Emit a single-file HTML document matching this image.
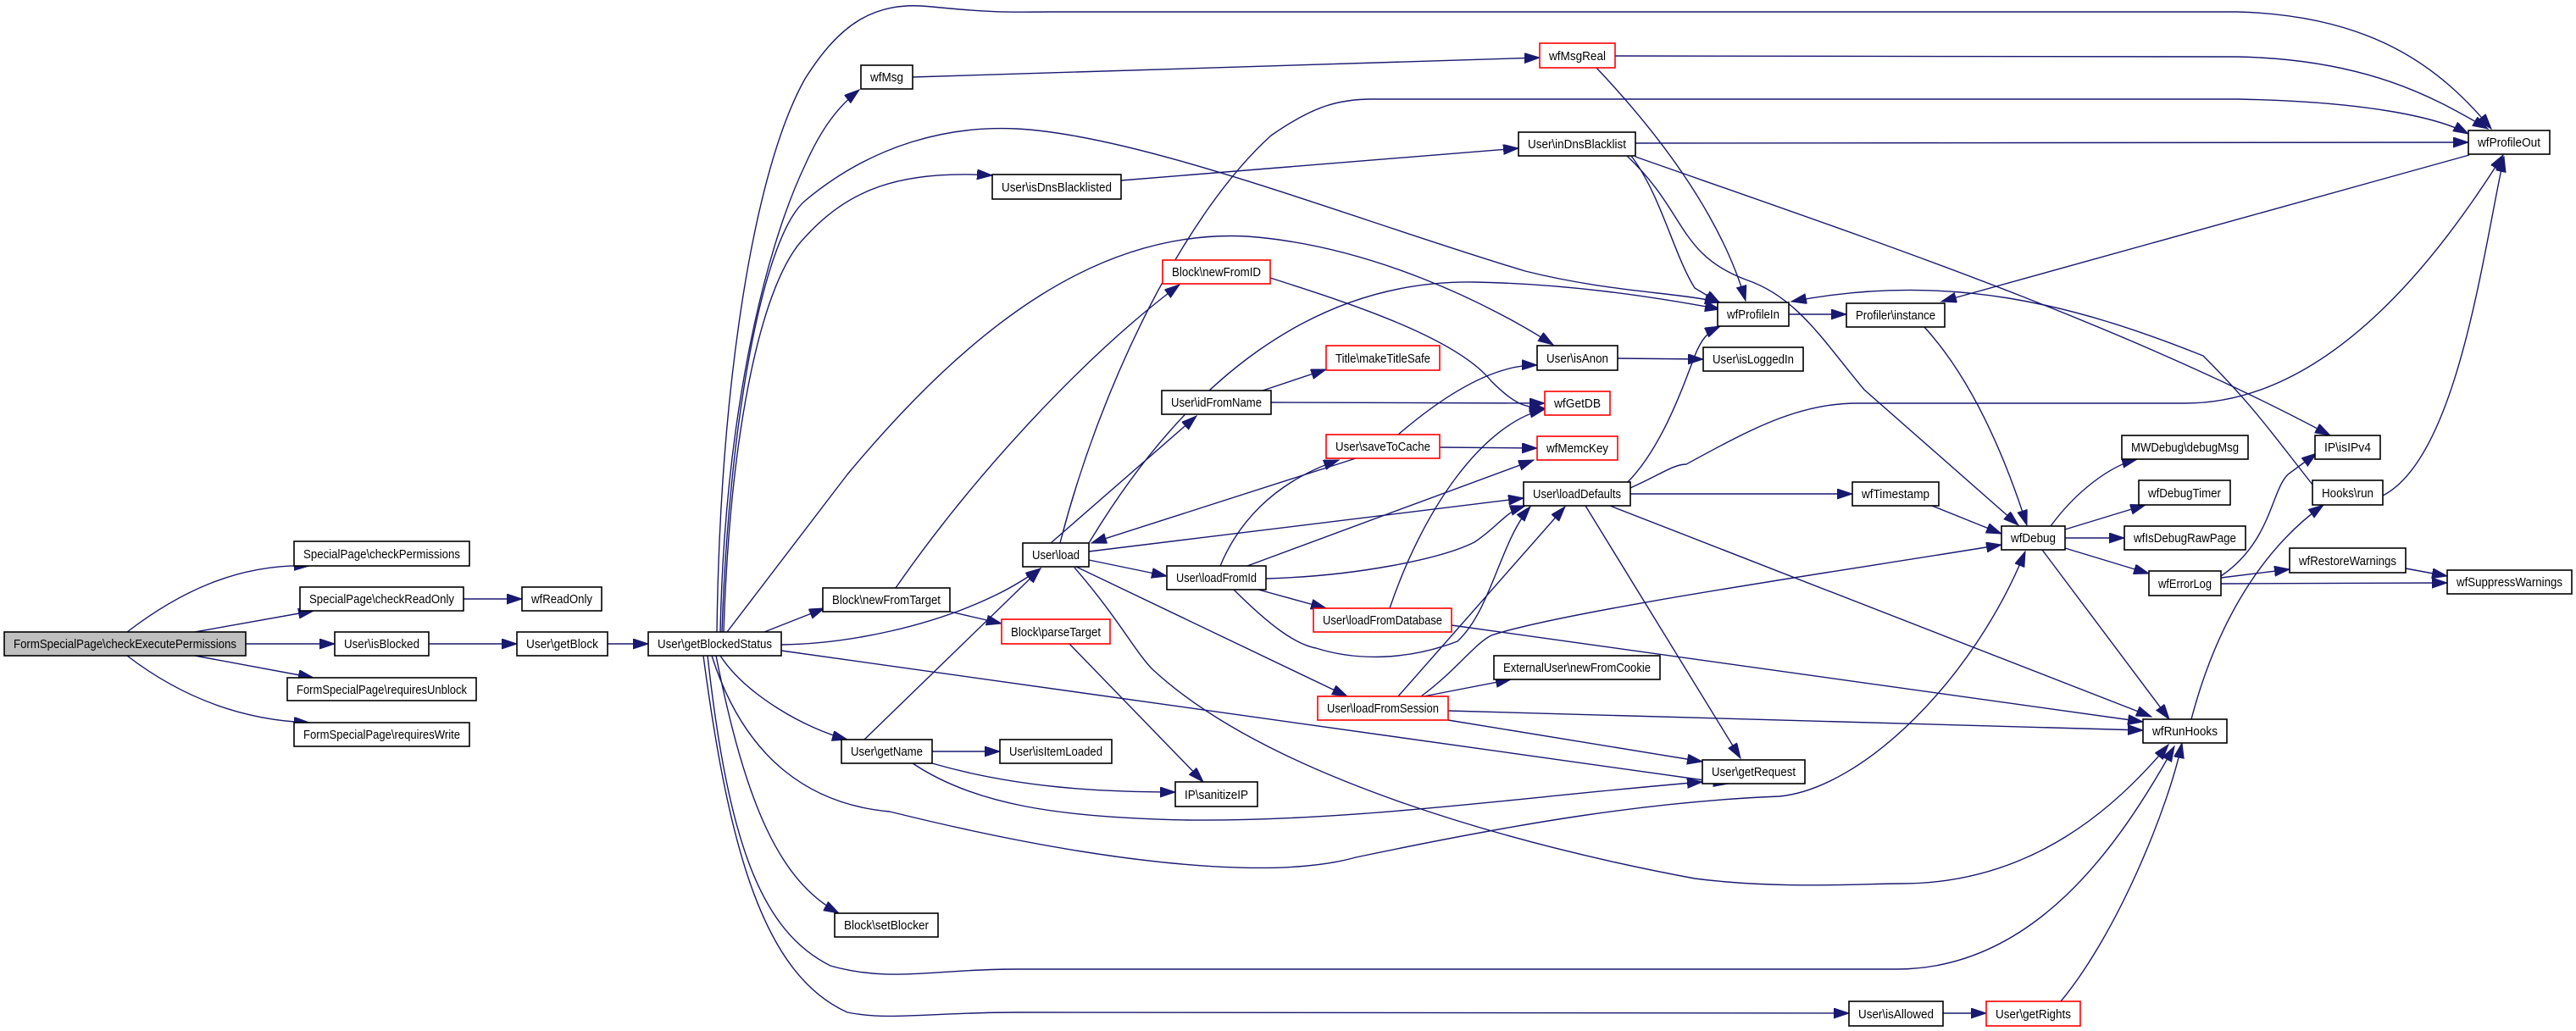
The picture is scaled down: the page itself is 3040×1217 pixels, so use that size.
<!DOCTYPE html>
<html><head><meta charset="utf-8"><style>
html,body{margin:0;padding:0;background:#fff;}
svg{display:block}
text{font-family:"Liberation Sans",sans-serif;font-size:15px;fill:#000}
.e{fill:none;stroke:#191970;stroke-width:1.4}
.n{fill:#fff;stroke:#000;stroke-width:1.6}
.r{fill:#fff;stroke:#ff0000;stroke-width:1.6}
.g{fill:#bfbfbf;stroke:#000;stroke-width:1.6}
</style></head><body>
<svg width="3040" height="1217" viewBox="0 0 3040 1217" xmlns="http://www.w3.org/2000/svg">
<defs><marker id="a" markerUnits="userSpaceOnUse" markerWidth="20" markerHeight="14" refX="18" refY="6" orient="auto"><path d="M0,0 L18,6 L0,12 z" fill="#191970" stroke="#191970"/></marker></defs>
<g class="edges" marker-end="url(#a)">
<path class="e" marker-end="url(#a)" d="M150,746 C210,700 280,665 365,668"/>
<path class="e" marker-end="url(#a)" d="M230,746 L370,721"/>
<path class="e" marker-end="url(#a)" d="M290,760 L395,760"/>
<path class="e" marker-end="url(#a)" d="M230,774 L370,800"/>
<path class="e" marker-end="url(#a)" d="M150,774 C210,820 280,850 365,853"/>
<path class="e" marker-end="url(#a)" d="M547,707 L616,707"/>
<path class="e" marker-end="url(#a)" d="M506,760 L610,760"/>
<path class="e" marker-end="url(#a)" d="M717,760 L765,760"/>
<path class="e" marker-end="url(#a)" d="M846,746 C850,450 890,200 950,93 C990,30 1030,0 1100,8 C1180,16 1200,14 1240,14 L2640,14 C2800,18 2880,80 2940,152"/>
<path class="e" marker-end="url(#a)" d="M850,746 C855,500 900,300 950,195 C970,150 990,125 1014,106"/>
<path class="e" marker-end="url(#a)" d="M852,746 C860,500 900,280 950,237 C1030,170 1120,148 1200,152 C1350,160 1600,260 1800,320 C1900,345 1980,345 2030,357"/>
<path class="e" marker-end="url(#a)" d="M854,746 C862,500 900,330 950,280 C1000,225 1060,200 1171,207"/>
<path class="e" marker-end="url(#a)" d="M858,746 L1000,560 C1150,380 1300,270 1472,279 C1620,290 1760,360 1833,407"/>
<path class="e" marker-end="url(#a)" d="M902,746 L973,718"/>
<path class="e" marker-end="url(#a)" d="M922,761 C1000,760 1100,740 1180,700 C1200,690 1215,680 1228,671"/>
<path class="e" marker-end="url(#a)" d="M922,768 L2040,925"/>
<path class="e" marker-end="url(#a)" d="M830,774 C860,1000 900,1150 1000,1195 C1050,1205 1100,1195 1200,1195 L2182,1196"/>
<path class="e" marker-end="url(#a)" d="M835,774 C860,1000 900,1100 980,1140 C1050,1160 1100,1144 1200,1144 L2238,1144 C2400,1144 2500,1000 2566,881"/>
<path class="e" marker-end="url(#a)" d="M845,774 C880,950 920,1040 990,1078"/>
<path class="e" marker-end="url(#a)" d="M850,774 C880,820 950,860 1000,873"/>
<path class="e" marker-end="url(#a)" d="M840,774 C880,900 960,950 1050,958 C1300,1020 1500,1040 1600,1012 C1800,970 1950,946 2100,940 C2200,930 2330,800 2390,651"/>
<path class="e" marker-end="url(#a)" d="M1077,91 L1817,68"/>
<path class="e" d="M1906,66 L2640,67 C2800,70 2880,120 2936,152"/>
<path class="e" marker-end="url(#a)" d="M1884,80 C1950,150 2030,250 2060,355"/>
<path class="e" marker-end="url(#a)" d="M1323,213 L1792,175"/>
<path class="e" marker-end="url(#a)" d="M1930,169 L2913,168"/>
<path class="e" marker-end="url(#a)" d="M1930,185 C2200,280 2500,380 2750,514"/>
<path class="e" marker-end="url(#a)" d="M1925,184 C1960,230 1975,300 2000,340 L2030,358"/>
<path class="e" marker-end="url(#a)" d="M1920,184 C1990,250 1980,300 2060,330 C2120,350 2150,400 2200,460 L2382,620"/>
<path class="e" marker-end="url(#a)" d="M1057,694 C1150,560 1280,420 1392,336"/>
<path class="e" marker-end="url(#a)" d="M1251,641 C1300,450 1400,250 1500,160 C1550,125 1580,117 1620,117 L2640,117 C2800,120 2880,140 2913,158"/>
<path class="e" marker-end="url(#a)" d="M1285,641 C1400,450 1550,330 1740,333 C1850,335 1950,350 2030,365"/>
<path class="e" marker-end="url(#a)" d="M1240,641 L1412,491"/>
<path class="e" marker-end="url(#a)" d="M1600,541 L1288,641"/>
<path class="e" marker-end="url(#a)" d="M1440,668 C1460,620 1500,570 1580,543"/>
<path class="e" marker-end="url(#a)" d="M1285,651 L1798,588"/>
<path class="e" marker-end="url(#a)" d="M1285,661 L1377,680"/>
<path class="e" marker-end="url(#a)" d="M1270,669 L1590,822"/>
<path class="e" marker-end="url(#a)" d="M1268,670 C1320,730 1340,770 1360,790 C1500,920 1800,1000 2000,1037 C2100,1050 2200,1043 2244,1043 C2400,1043 2500,950 2559,879"/>
<path class="e" marker-end="url(#a)" d="M1485,696 L1565,718"/>
<path class="e" marker-end="url(#a)" d="M1494,683 C1600,680 1700,660 1740,640 C1770,620 1775,605 1800,597"/>
<path class="e" marker-end="url(#a)" d="M1456,696 C1500,740 1530,761 1553,765 C1600,780 1660,780 1720,757 C1760,720 1770,640 1806,598"/>
<path class="e" marker-end="url(#a)" d="M1472,668 L1810,543"/>
<path class="e" marker-end="url(#a)" d="M1640,718 C1680,600 1750,500 1823,483"/>
<path class="e" marker-end="url(#a)" d="M1713,738 L2529,852"/>
<path class="e" marker-end="url(#a)" d="M1680,822 L1783,802"/>
<path class="e" marker-end="url(#a)" d="M1650,822 L1847,598"/>
<path class="e" marker-end="url(#a)" d="M1677,822 C1720,790 1740,760 1760,750 C1850,720 2200,670 2362,643"/>
<path class="e" marker-end="url(#a)" d="M1709,839 L2529,862"/>
<path class="e" marker-end="url(#a)" d="M1709,850 L2009,899"/>
<path class="e" marker-end="url(#a)" d="M1924,576 C1960,560 1975,548 1990,548 C2060,510 2120,476 2191,476 L2579,476 C2750,476 2880,300 2954,183"/>
<path class="e" marker-end="url(#a)" d="M1920,570 C1960,530 1985,460 2000,420 C2008,400 2015,392 2030,385"/>
<path class="e" marker-end="url(#a)" d="M1924,583 L2186,583"/>
<path class="e" marker-end="url(#a)" d="M1900,597 L2539,846"/>
<path class="e" marker-end="url(#a)" d="M1871,597 L2054,895"/>
<path class="e" marker-end="url(#a)" d="M2111,371 L2179,371"/>
<path class="e" marker-end="url(#a)" d="M2914,183 L2291,356"/>
<path class="e" marker-end="url(#a)" d="M2271,386 C2320,440 2360,520 2392,620"/>
<path class="e" marker-end="url(#a)" d="M2729,572 C2680,510 2660,480 2600,420 C2450,360 2300,320 2114,356"/>
<path class="e" marker-end="url(#a)" d="M2812,585 C2900,540 2930,300 2955,185"/>
<path class="e" marker-end="url(#a)" d="M1499,328 C1600,360 1720,400 1760,450 C1790,480 1800,480 1823,482"/>
<path class="e" marker-end="url(#a)" d="M1490,461 L1565,436"/>
<path class="e" marker-end="url(#a)" d="M1500,475 L1823,476"/>
<path class="e" marker-end="url(#a)" d="M1650,513 C1700,470 1760,430 1814,431"/>
<path class="e" marker-end="url(#a)" d="M1699,528 L1814,529"/>
<path class="e" marker-end="url(#a)" d="M1909,423 L2010,424"/>
<path class="e" marker-end="url(#a)" d="M2280,597 L2362,630"/>
<path class="e" marker-end="url(#a)" d="M2420,621 C2450,580 2490,550 2522,542"/>
<path class="e" marker-end="url(#a)" d="M2437,625 L2532,596"/>
<path class="e" marker-end="url(#a)" d="M2437,635 L2507,635"/>
<path class="e" marker-end="url(#a)" d="M2437,647 L2536,677"/>
<path class="e" marker-end="url(#a)" d="M2410,649 L2560,849"/>
<path class="e" marker-end="url(#a)" d="M2621,680 C2680,640 2680,580 2700,560 L2734,535"/>
<path class="e" marker-end="url(#a)" d="M2621,682 L2702,672"/>
<path class="e" marker-end="url(#a)" d="M2621,689 L2888,688"/>
<path class="e" marker-end="url(#a)" d="M2839,671 L2888,680"/>
<path class="e" marker-end="url(#a)" d="M2586,849 C2620,720 2680,640 2742,596"/>
<path class="e" marker-end="url(#a)" d="M2293,1196 L2344,1196"/>
<path class="e" marker-end="url(#a)" d="M2432,1182 C2500,1100 2560,950 2575,877"/>
<path class="e" marker-end="url(#a)" d="M1020,873 L1228,671"/>
<path class="e" marker-end="url(#a)" d="M1100,887 L1180,887"/>
<path class="e" marker-end="url(#a)" d="M1100,901 C1200,930 1300,935 1387,935"/>
<path class="e" marker-end="url(#a)" d="M1077,901 C1150,950 1250,965 1400,968 C1600,970 1800,940 2009,923"/>
<path class="e" marker-end="url(#a)" d="M1262,760 L1420,923"/>
<path class="e" marker-end="url(#a)" d="M1121,722 L1182,736"/>
</g>
<g>
<rect class="g" x="5" y="746" width="285" height="28"/><text x="147.5" y="765" text-anchor="middle" textLength="263" lengthAdjust="spacingAndGlyphs">FormSpecialPage\checkExecutePermissions</text>
<rect class="n" x="347" y="639" width="207" height="29"/><text x="450.5" y="659" text-anchor="middle" textLength="185" lengthAdjust="spacingAndGlyphs">SpecialPage\checkPermissions</text>
<rect class="n" x="354" y="693" width="193" height="28"/><text x="450.5" y="712" text-anchor="middle" textLength="171" lengthAdjust="spacingAndGlyphs">SpecialPage\checkReadOnly</text>
<rect class="n" x="616" y="693" width="94" height="28"/><text x="663" y="712" text-anchor="middle" textLength="72" lengthAdjust="spacingAndGlyphs">wfReadOnly</text>
<rect class="n" x="395" y="746" width="111" height="28"/><text x="450.5" y="765" text-anchor="middle" textLength="89" lengthAdjust="spacingAndGlyphs">User\isBlocked</text>
<rect class="n" x="339" y="800" width="223" height="27"/><text x="450.5" y="819" text-anchor="middle" textLength="201" lengthAdjust="spacingAndGlyphs">FormSpecialPage\requiresUnblock</text>
<rect class="n" x="347" y="853" width="207" height="28"/><text x="450.5" y="872" text-anchor="middle" textLength="185" lengthAdjust="spacingAndGlyphs">FormSpecialPage\requiresWrite</text>
<rect class="n" x="610" y="746" width="107" height="28"/><text x="663.5" y="765" text-anchor="middle" textLength="85" lengthAdjust="spacingAndGlyphs">User\getBlock</text>
<rect class="n" x="765" y="746" width="157" height="28"/><text x="843.5" y="765" text-anchor="middle" textLength="135" lengthAdjust="spacingAndGlyphs">User\getBlockedStatus</text>
<rect class="n" x="1016" y="77" width="61" height="28"/><text x="1046.5" y="96" text-anchor="middle" textLength="39" lengthAdjust="spacingAndGlyphs">wfMsg</text>
<rect class="r" x="1817" y="51" width="89" height="29"/><text x="1861.5" y="71" text-anchor="middle" textLength="67" lengthAdjust="spacingAndGlyphs">wfMsgReal</text>
<rect class="n" x="1171" y="206" width="152" height="29"/><text x="1247" y="226" text-anchor="middle" textLength="130" lengthAdjust="spacingAndGlyphs">User\isDnsBlacklisted</text>
<rect class="n" x="1792" y="156" width="138" height="28"/><text x="1861" y="175" text-anchor="middle" textLength="116" lengthAdjust="spacingAndGlyphs">User\inDnsBlacklist</text>
<rect class="r" x="1372" y="307" width="127" height="28"/><text x="1435.5" y="326" text-anchor="middle" textLength="105" lengthAdjust="spacingAndGlyphs">Block\newFromID</text>
<rect class="r" x="1565" y="408" width="134" height="29"/><text x="1632" y="428" text-anchor="middle" textLength="112" lengthAdjust="spacingAndGlyphs">Title\makeTitleSafe</text>
<rect class="n" x="1814" y="408" width="95" height="29"/><text x="1861.5" y="428" text-anchor="middle" textLength="73" lengthAdjust="spacingAndGlyphs">User\isAnon</text>
<rect class="n" x="1371" y="461" width="129" height="28"/><text x="1435.5" y="480" text-anchor="middle" textLength="107" lengthAdjust="spacingAndGlyphs">User\idFromName</text>
<rect class="r" x="1823" y="462" width="77" height="28"/><text x="1861.5" y="481" text-anchor="middle" textLength="55" lengthAdjust="spacingAndGlyphs">wfGetDB</text>
<rect class="r" x="1565" y="513" width="134" height="28"/><text x="1632" y="532" text-anchor="middle" textLength="112" lengthAdjust="spacingAndGlyphs">User\saveToCache</text>
<rect class="r" x="1814" y="515" width="95" height="28"/><text x="1861.5" y="534" text-anchor="middle" textLength="73" lengthAdjust="spacingAndGlyphs">wfMemcKey</text>
<rect class="n" x="1798" y="569" width="126" height="28"/><text x="1861" y="588" text-anchor="middle" textLength="104" lengthAdjust="spacingAndGlyphs">User\loadDefaults</text>
<rect class="n" x="1207" y="641" width="78" height="28"/><text x="1246" y="660" text-anchor="middle" textLength="56" lengthAdjust="spacingAndGlyphs">User\load</text>
<rect class="n" x="971" y="694" width="150" height="28"/><text x="1046" y="713" text-anchor="middle" textLength="128" lengthAdjust="spacingAndGlyphs">Block\newFromTarget</text>
<rect class="r" x="1182" y="731" width="128" height="29"/><text x="1246" y="751" text-anchor="middle" textLength="106" lengthAdjust="spacingAndGlyphs">Block\parseTarget</text>
<rect class="n" x="1377" y="668" width="117" height="28"/><text x="1435.5" y="687" text-anchor="middle" textLength="95" lengthAdjust="spacingAndGlyphs">User\loadFromId</text>
<rect class="r" x="1550" y="718" width="163" height="28"/><text x="1631.5" y="737" text-anchor="middle" textLength="141" lengthAdjust="spacingAndGlyphs">User\loadFromDatabase</text>
<rect class="n" x="1763" y="774" width="196" height="28"/><text x="1861" y="793" text-anchor="middle" textLength="174" lengthAdjust="spacingAndGlyphs">ExternalUser\newFromCookie</text>
<rect class="r" x="1555" y="822" width="154" height="28"/><text x="1632" y="841" text-anchor="middle" textLength="132" lengthAdjust="spacingAndGlyphs">User\loadFromSession</text>
<rect class="n" x="993" y="873" width="107" height="28"/><text x="1046.5" y="892" text-anchor="middle" textLength="85" lengthAdjust="spacingAndGlyphs">User\getName</text>
<rect class="n" x="1180" y="873" width="132" height="28"/><text x="1246" y="892" text-anchor="middle" textLength="110" lengthAdjust="spacingAndGlyphs">User\isItemLoaded</text>
<rect class="n" x="1387" y="923" width="97" height="29"/><text x="1435.5" y="943" text-anchor="middle" textLength="75" lengthAdjust="spacingAndGlyphs">IP\sanitizeIP</text>
<rect class="n" x="985" y="1078" width="122" height="28"/><text x="1046" y="1097" text-anchor="middle" textLength="100" lengthAdjust="spacingAndGlyphs">Block\setBlocker</text>
<rect class="n" x="2913" y="154" width="96" height="28"/><text x="2961" y="173" text-anchor="middle" textLength="74" lengthAdjust="spacingAndGlyphs">wfProfileOut</text>
<rect class="n" x="2027" y="357" width="84" height="28"/><text x="2069" y="376" text-anchor="middle" textLength="62" lengthAdjust="spacingAndGlyphs">wfProfileIn</text>
<rect class="n" x="2179" y="358" width="116" height="28"/><text x="2237" y="377" text-anchor="middle" textLength="94" lengthAdjust="spacingAndGlyphs">Profiler\instance</text>
<rect class="n" x="2010" y="410" width="118" height="28"/><text x="2069" y="429" text-anchor="middle" textLength="96" lengthAdjust="spacingAndGlyphs">User\isLoggedIn</text>
<rect class="n" x="2504" y="514" width="149" height="28"/><text x="2578.5" y="533" text-anchor="middle" textLength="127" lengthAdjust="spacingAndGlyphs">MWDebug\debugMsg</text>
<rect class="n" x="2732" y="514" width="77" height="28"/><text x="2770.5" y="533" text-anchor="middle" textLength="55" lengthAdjust="spacingAndGlyphs">IP\isIPv4</text>
<rect class="n" x="2186" y="569" width="102" height="28"/><text x="2237" y="588" text-anchor="middle" textLength="80" lengthAdjust="spacingAndGlyphs">wfTimestamp</text>
<rect class="n" x="2524" y="567" width="108" height="29"/><text x="2578" y="587" text-anchor="middle" textLength="86" lengthAdjust="spacingAndGlyphs">wfDebugTimer</text>
<rect class="n" x="2729" y="567" width="83" height="29"/><text x="2770.5" y="587" text-anchor="middle" textLength="61" lengthAdjust="spacingAndGlyphs">Hooks\run</text>
<rect class="n" x="2362" y="621" width="75" height="28"/><text x="2399.5" y="640" text-anchor="middle" textLength="53" lengthAdjust="spacingAndGlyphs">wfDebug</text>
<rect class="n" x="2507" y="621" width="143" height="28"/><text x="2578.5" y="640" text-anchor="middle" textLength="121" lengthAdjust="spacingAndGlyphs">wfIsDebugRawPage</text>
<rect class="n" x="2702" y="647" width="137" height="29"/><text x="2770.5" y="667" text-anchor="middle" textLength="115" lengthAdjust="spacingAndGlyphs">wfRestoreWarnings</text>
<rect class="n" x="2888" y="673" width="147" height="28"/><text x="2961.5" y="692" text-anchor="middle" textLength="125" lengthAdjust="spacingAndGlyphs">wfSuppressWarnings</text>
<rect class="n" x="2536" y="674" width="85" height="29"/><text x="2578.5" y="694" text-anchor="middle" textLength="63" lengthAdjust="spacingAndGlyphs">wfErrorLog</text>
<rect class="n" x="2529" y="849" width="99" height="28"/><text x="2578.5" y="868" text-anchor="middle" textLength="77" lengthAdjust="spacingAndGlyphs">wfRunHooks</text>
<rect class="n" x="2009" y="897" width="121" height="28"/><text x="2069.5" y="916" text-anchor="middle" textLength="99" lengthAdjust="spacingAndGlyphs">User\getRequest</text>
<rect class="n" x="2182" y="1182" width="111" height="29"/><text x="2237.5" y="1202" text-anchor="middle" textLength="89" lengthAdjust="spacingAndGlyphs">User\isAllowed</text>
<rect class="r" x="2344" y="1182" width="111" height="29"/><text x="2399.5" y="1202" text-anchor="middle" textLength="89" lengthAdjust="spacingAndGlyphs">User\getRights</text>
</g>
</svg>
</body></html>
